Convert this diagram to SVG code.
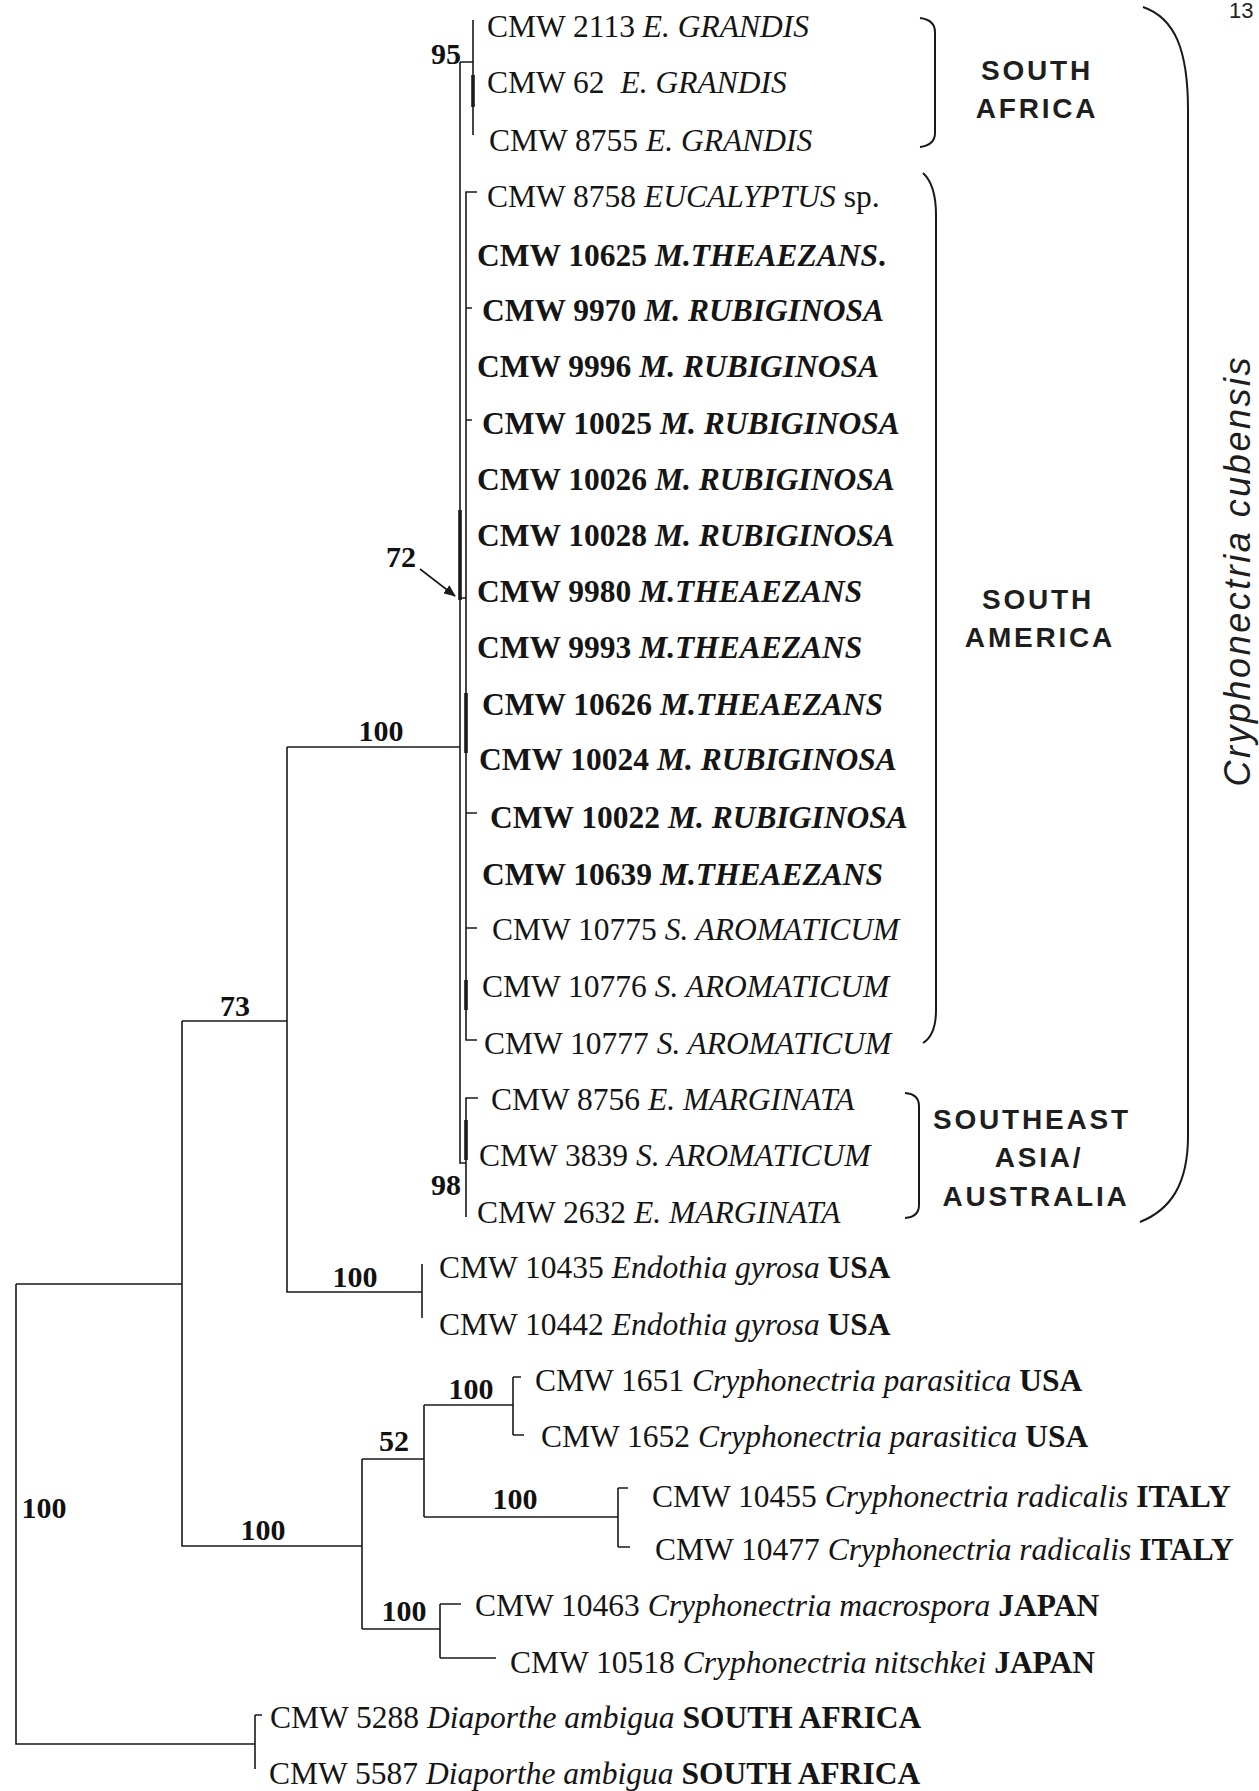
<svg xmlns="http://www.w3.org/2000/svg" width="1259" height="1791" viewBox="0 0 1259 1791">
<defs>
<style>
.t{font-family:"Liberation Serif","Times New Roman",serif;font-size:31.5px;fill:#151515}
.b{font-weight:bold}
.i{font-style:italic}
.n{font-family:"Liberation Serif","Times New Roman",serif;font-size:30px;font-weight:bold;fill:#111;text-anchor:middle}
.r{font-family:"Liberation Sans",Arial,sans-serif;font-size:28px;font-weight:bold;fill:#1e1e1e;letter-spacing:2.8px;text-anchor:middle}
.ln{fill:none;stroke:#1a1a1a;stroke-width:1.6}
.th{fill:none;stroke:#1a1a1a;stroke-width:3.6}
.br{fill:none;stroke:#1a1a1a;stroke-width:2}
</style>
<marker id="ah" markerWidth="12" markerHeight="10" refX="11" refY="5" orient="auto" markerUnits="userSpaceOnUse">
<path d="M0,0 L12,5 L0,10 Z" fill="#1a1a1a"/>
</marker>
</defs>
<rect width="1259" height="1791" fill="#fff"/>

<g id="connectors">
<path class="ln" d="M460,62 V1163 H466"/>
<path class="ln" d="M460,62 H473 M473,20 V135"/>
<path class="th" d="M473,75 V107"/>
<path class="ln" d="M477,192 H466 V1040 H477"/>
<path class="ln" d="M466,308 H472 M466,420 H472 M460,598 H466 M466,813 H477 M466,928 H477"/>
<path class="th" d="M460,510 V600 M466,693 V753 M466,980 V1010"/>
<path class="ln" d="M478,1098 H466 V1217"/>
<path class="th" d="M466,1120 V1160"/>
<path class="ln" d="M287,747 H460 M287,747 V1292 H422 M422,1264 V1318"/>
<path class="ln" d="M182,1021 H287 M182,1021 V1546 H362"/>
<path class="ln" d="M16,1284 H182 M16,1284 V1744 H255 M255,1715 V1769 M255,1715 H262"/>
<path class="ln" d="M362,1459 V1629 M362,1459 H424 M424,1405 V1517 M424,1405 H513 M513,1377 V1435 M513,1377 H521 M513,1435 H524"/>
<path class="ln" d="M424,1517 H618 M618,1488 V1547 M618,1488 H628 M618,1547 H630"/>
<path class="ln" d="M362,1629 H440 M440,1604 V1658 M440,1604 H461 M440,1658 H496"/>
<line class="ln" x1="420" y1="569" x2="455" y2="596" marker-end="url(#ah)"/>
<path class="br" d="M920,18 Q935,20 935,32 V133 Q935,145 920,147"/>
<path class="br" d="M923,173 Q936,185 936,215 V1010 Q936,1035 923,1043"/>
<path class="br" d="M905,1093 Q919,1094 919,1106 V1205 Q919,1217 905,1218"/>
<path class="br" d="M1143,7 C1175,18 1188,50 1188,110 V1136 C1188,1185 1170,1210 1140,1222"/>
</g>

<g id="support-labels">
<text class="n" x="446" y="64">95</text>
<text class="n" x="401" y="567">72</text>
<text class="n" x="381" y="741">100</text>
<text class="n" x="235" y="1016">73</text>
<text class="n" x="355" y="1287">100</text>
<text class="n" x="446" y="1195">98</text>
<text class="n" x="44" y="1518">100</text>
<text class="n" x="263" y="1540">100</text>
<text class="n" x="394" y="1451">52</text>
<text class="n" x="471" y="1399">100</text>
<text class="n" x="515" y="1509">100</text>
<text class="n" x="404" y="1621">100</text>
</g>

<g id="region-labels">
<g id="south-africa"><text class="r" x="1037" y="80">SOUTH</text><text class="r" x="1037" y="118">AFRICA</text></g>
<g id="south-america"><text class="r" x="1038" y="609">SOUTH</text><text class="r" x="1040" y="647">AMERICA</text></g>
<g id="southeast-asia"><text class="r" x="1032" y="1129">SOUTHEAST</text><text class="r" x="1039" y="1167">ASIA/</text><text class="r" x="1036" y="1206">AUSTRALIA</text></g>
<g id="species-label"><text transform="translate(1250,572) rotate(-90)" font-family="'Liberation Sans',Arial,sans-serif" font-size="36" font-style="italic" fill="#1e1e1e" text-anchor="middle" textLength="429">Cryphonectria cubensis</text></g>
<text x="1229" y="18" font-family="'Liberation Sans',Arial,sans-serif" font-size="22" fill="#222">13</text>
</g>

<g id="taxa">
<g id="t1"><text class="t" x="487" y="37">CMW 2113 <tspan class="i">E. GRANDIS</tspan></text></g>
<g id="t2"><text class="t" x="487" y="93">CMW 62 <tspan class="i" dx="8">E. GRANDIS</tspan></text></g>
<g id="t3"><text class="t" x="489" y="151">CMW 8755 <tspan class="i">E. GRANDIS</tspan></text></g>
<g id="t4"><text class="t" x="487" y="207">CMW 8758 <tspan class="i">EUCALYPTUS</tspan> sp.</text></g>
<g id="t5"><text class="t b" x="477" y="266">CMW 10625 <tspan class="i">M.THEAEZANS</tspan>.</text></g>
<g id="t6"><text class="t b" x="482" y="321">CMW 9970 <tspan class="i">M. RUBIGINOSA</tspan></text></g>
<g id="t7"><text class="t b" x="477" y="377">CMW 9996 <tspan class="i">M. RUBIGINOSA</tspan></text></g>
<g id="t8"><text class="t b" x="482" y="434">CMW 10025 <tspan class="i">M. RUBIGINOSA</tspan></text></g>
<g id="t9"><text class="t b" x="477" y="490">CMW 10026 <tspan class="i">M. RUBIGINOSA</tspan></text></g>
<g id="t10"><text class="t b" x="477" y="546">CMW 10028 <tspan class="i">M. RUBIGINOSA</tspan></text></g>
<g id="t11"><text class="t b" x="477" y="602">CMW 9980 <tspan class="i">M.THEAEZANS</tspan></text></g>
<g id="t12"><text class="t b" x="477" y="658">CMW 9993 <tspan class="i">M.THEAEZANS</tspan></text></g>
<g id="t13"><text class="t b" x="482" y="715">CMW 10626 <tspan class="i">M.THEAEZANS</tspan></text></g>
<g id="t14"><text class="t b" x="479" y="770">CMW 10024 <tspan class="i">M. RUBIGINOSA</tspan></text></g>
<g id="t15"><text class="t b" x="490" y="828">CMW 10022 <tspan class="i">M. RUBIGINOSA</tspan></text></g>
<g id="t16"><text class="t b" x="482" y="885">CMW 10639 <tspan class="i">M.THEAEZANS</tspan></text></g>
<g id="t17"><text class="t" x="492" y="940">CMW 10775 <tspan class="i">S. AROMATICUM</tspan></text></g>
<g id="t18"><text class="t" x="482" y="997">CMW 10776 <tspan class="i">S. AROMATICUM</tspan></text></g>
<g id="t19"><text class="t" x="484" y="1054">CMW 10777 <tspan class="i">S. AROMATICUM</tspan></text></g>
<g id="t20"><text class="t" x="491" y="1110">CMW 8756 <tspan class="i">E. MARGINATA</tspan></text></g>
<g id="t21"><text class="t" x="479" y="1166">CMW 3839 <tspan class="i">S. AROMATICUM</tspan></text></g>
<g id="t22"><text class="t" x="477" y="1223">CMW 2632 <tspan class="i">E. MARGINATA</tspan></text></g>
<g id="t23"><text class="t" x="439" y="1278">CMW 10435 <tspan class="i">Endothia gyrosa</tspan> <tspan class="b">USA</tspan></text></g>
<g id="t24"><text class="t" x="439" y="1335">CMW 10442 <tspan class="i">Endothia gyrosa</tspan> <tspan class="b">USA</tspan></text></g>
<g id="t25"><text class="t" x="535" y="1391">CMW 1651 <tspan class="i">Cryphonectria parasitica</tspan> <tspan class="b">USA</tspan></text></g>
<g id="t26"><text class="t" x="541" y="1447">CMW 1652 <tspan class="i">Cryphonectria parasitica</tspan> <tspan class="b">USA</tspan></text></g>
<g id="t27"><text class="t" x="652" y="1507">CMW 10455 <tspan class="i">Cryphonectria radicalis</tspan> <tspan class="b">ITALY</tspan></text></g>
<g id="t28"><text class="t" x="655" y="1560">CMW 10477 <tspan class="i">Cryphonectria radicalis</tspan> <tspan class="b">ITALY</tspan></text></g>
<g id="t29"><text class="t" x="475" y="1616">CMW 10463 <tspan class="i">Cryphonectria macrospora</tspan> <tspan class="b">JAPAN</tspan></text></g>
<g id="t30"><text class="t" x="510" y="1673">CMW 10518 <tspan class="i">Cryphonectria nitschkei</tspan> <tspan class="b">JAPAN</tspan></text></g>
<g id="t31"><text class="t" x="270" y="1728">CMW 5288 <tspan class="i">Diaporthe ambigua</tspan> <tspan class="b">SOUTH AFRICA</tspan></text></g>
<g id="t32"><text class="t" x="269" y="1784">CMW 5587 <tspan class="i">Diaporthe ambigua</tspan> <tspan class="b">SOUTH AFRICA</tspan></text></g>
</g>
</svg>
